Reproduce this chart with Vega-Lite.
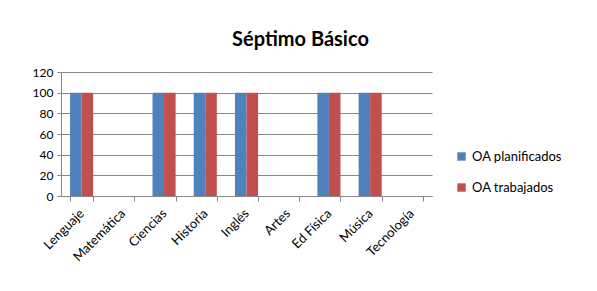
{
  "$schema": "https://vega.github.io/schema/vega-lite/v6.json",
  "autosize": "none",
  "width": 371,
  "height": 124,
  "padding": {"left": 61, "top": 72, "right": 165, "bottom": 95},
  "background": "white",
  "config": {
    "font": "Lato",
    "view": {"stroke": null}
  },
  "title": {
    "text": "Séptimo Básico",
    "font": "Lato",
    "fontSize": 20,
    "fontWeight": "bold",
    "color": "#000000",
    "anchor": "middle",
    "dx": 54,
    "offset": 16
  },
  "data": {
    "values": [
      {"asignatura": "Lenguaje", "serie": "OA planificados", "valor": 100},
      {"asignatura": "Lenguaje", "serie": "OA trabajados", "valor": 100},
      {"asignatura": "Matemática", "serie": "OA planificados", "valor": 0},
      {"asignatura": "Matemática", "serie": "OA trabajados", "valor": 0},
      {"asignatura": "Ciencias", "serie": "OA planificados", "valor": 100},
      {"asignatura": "Ciencias", "serie": "OA trabajados", "valor": 100},
      {"asignatura": "Historia", "serie": "OA planificados", "valor": 100},
      {"asignatura": "Historia", "serie": "OA trabajados", "valor": 100},
      {"asignatura": "Inglés", "serie": "OA planificados", "valor": 100},
      {"asignatura": "Inglés", "serie": "OA trabajados", "valor": 100},
      {"asignatura": "Artes", "serie": "OA planificados", "valor": 0},
      {"asignatura": "Artes", "serie": "OA trabajados", "valor": 0},
      {"asignatura": "Ed Física", "serie": "OA planificados", "valor": 100},
      {"asignatura": "Ed Física", "serie": "OA trabajados", "valor": 100},
      {"asignatura": "Música", "serie": "OA planificados", "valor": 100},
      {"asignatura": "Música", "serie": "OA trabajados", "valor": 100},
      {"asignatura": "Tecnología", "serie": "OA planificados", "valor": 0},
      {"asignatura": "Tecnología", "serie": "OA trabajados", "valor": 0}
    ]
  },
  "mark": {"type": "bar"},
  "encoding": {
    "x": {
      "field": "asignatura",
      "type": "nominal",
      "sort": null,
      "title": null,
      "scale": {"paddingInner": 0.44, "paddingOuter": 0.22},
      "axis": {
        "labelAngle": -45,
        "labelAlign": "right",
        "labelBaseline": "middle",
        "labelFontSize": 13,
        "labelColor": "#000000",
        "labelPadding": 10,
        "tickBand": "extent",
        "tickSize": 5,
        "tickColor": "#868686",
        "domainColor": "#868686",
        "grid": false
      }
    },
    "xOffset": {"field": "serie", "type": "nominal", "sort": ["OA planificados", "OA trabajados"]},
    "y": {
      "field": "valor",
      "type": "quantitative",
      "title": null,
      "scale": {"domain": [0, 120]},
      "axis": {
        "values": [0, 20, 40, 60, 80, 100, 120],
        "labelFontSize": 12,
        "labelColor": "#000000",
        "labelPadding": 4,
        "tickSize": 4,
        "tickColor": "#868686",
        "domainColor": "#868686",
        "gridColor": "#868686",
        "gridWidth": 1
      }
    },
    "color": {
      "field": "serie",
      "type": "nominal",
      "scale": {"domain": ["OA planificados", "OA trabajados"], "range": ["#4F81BD", "#C0504D"]},
      "legend": {
        "title": null,
        "orient": "none",
        "legendX": 394,
        "legendY": 78,
        "symbolType": "square",
        "symbolSize": 70,
        "symbolStrokeWidth": 0,
        "labelFontSize": 13,
        "labelColor": "#000000",
        "rowPadding": 17,
        "labelOffset": 4
      }
    }
  }
}
